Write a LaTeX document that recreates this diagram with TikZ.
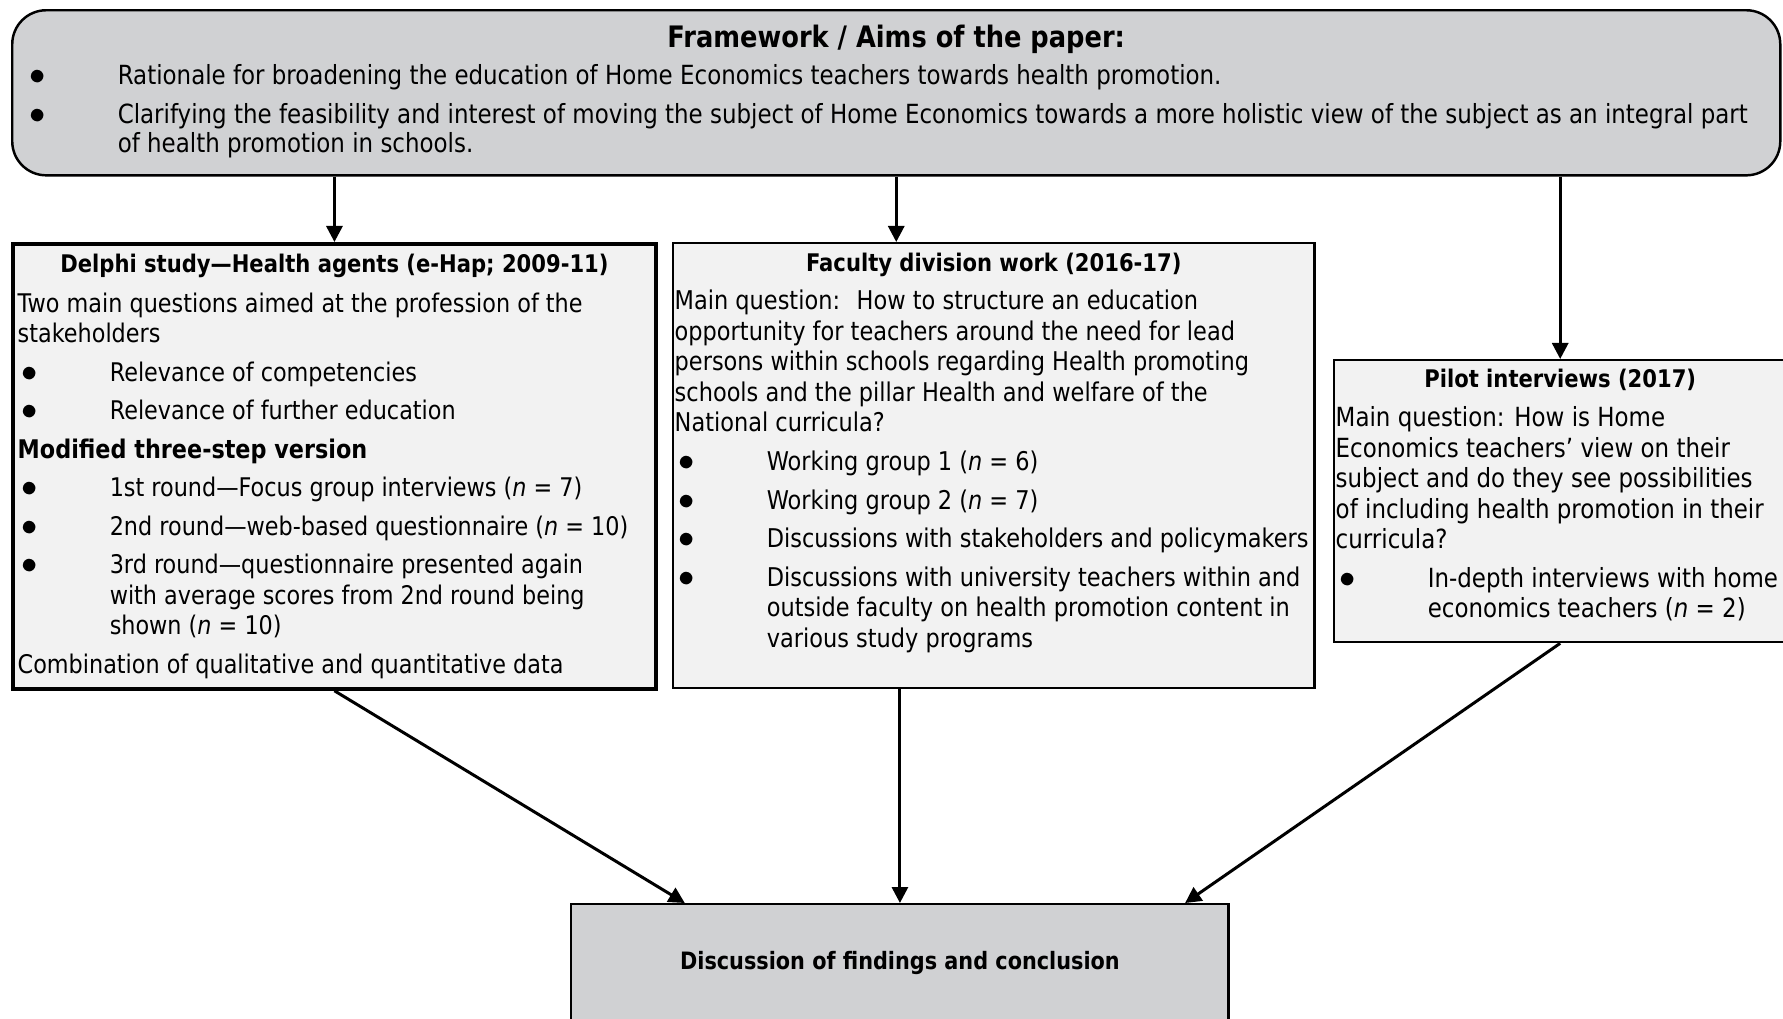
\documentclass[tikz,border=0pt]{standalone}
\usepackage{fontspec}
\setmainfont{DejaVu Sans}[FakeStretch=0.87]
\usepackage{tikz}
\usetikzlibrary{arrows.meta,positioning,calc}
\definecolor{cA}{HTML}{000000}
\definecolor{cG}{HTML}{D0D1D3}
\definecolor{cL}{HTML}{F2F2F2}
\newcommand{\bodyfont}{\fontsize{7.4}{8.68}\selectfont}
\newcommand{\aimsfont}{\fontsize{7.5}{8.25}\selectfont}
\tikzset{
  frame/.style={draw=cA,line width=0.7pt,fill=cG,rounded corners=0.34cm,inner sep=0pt,anchor=north west},
  panel/.style={draw=cA,line width=0.6pt,fill=cL,inner sep=0pt,anchor=north west},
  head/.style={font=\fontsize{6.9}{8}\selectfont\bfseries,inner sep=0pt},
  body/.style={font=\bodyfont,align=left,inner sep=0pt,anchor=north west},
  maparrow/.style={-{Triangle[length=0.16cm,width=0.16cm]},line width=0.85pt,cA},
}
\newcommand{\bul}[1]{\makebox[0.92cm][l]{\hspace{0.04cm}{\fontsize{9.5}{9.5}\selectfont$\bullet$}}#1}
\newcommand{\ind}[1]{\hspace*{0.92cm}#1}

\begin{document}
\begin{tikzpicture}[x=0.01cm,y=-0.01cm]
\useasboundingbox (0,0) rectangle (1783,1018);

% boxes
\node[frame,minimum width=17.67cm,minimum height=1.65cm] (aims) at (11,9) {};
\node[panel,line width=1pt,minimum width=6.43cm,minimum height=4.45cm] (delphi) at (11,242) {};
\node[panel,minimum width=6.41cm,minimum height=4.45cm] (faculty) at (672,242) {};
\node[panel,minimum width=4.52cm,minimum height=2.82cm] (pilot) at (1333,359) {};
\node[frame,rounded corners=0pt,minimum width=6.57cm,minimum height=1.18cm,
  font=\fontsize{6.8}{8}\selectfont\bfseries] (concl) at (570,903)
  {Discussion of findings and conclusion};

% headings
\node[head,font=\fontsize{8.4}{9}\selectfont\bfseries] (aimsT) at ([yshift=-0.304cm]aims.north) {Framework / Aims of the paper:};
\node[head] (delphiT) at ([yshift=-0.24cm]delphi.north) {Delphi study---Health agents (e-Hap; 2009-11)};
\node[head] (facultyT) at ([yshift=-0.23cm]faculty.north) {Faculty division work (2016-17)};
\node[head] (pilotT) at ([yshift=-0.21cm]pilot.north) {Pilot interviews (2017)};

% texts
\node[body,font=\aimsfont] (aimsB) at ([xshift=0.14cm,yshift=-0.55cm]aims.north west) {%
  \bul{Rationale for broadening the education of Home Economics teachers towards health promotion.}\\[0.1cm]
  \bul{Clarifying the feasibility and interest of moving the subject of Home Economics towards a more holistic view of the subject as an integral part}\\
  \ind{of health promotion in schools.}};

\node[body,font=\fontsize{7.3}{8.68}\selectfont] (delphiB) at ([xshift=0.06cm,yshift=-0.5cm]delphi.north west) {%
  Two main questions aimed at the profession of the\\
  stakeholders\\[0.08cm]
  \bul{Relevance of competencies}\\[0.08cm]
  \bul{Relevance of further education}\\[0.08cm]
  \textbf{Modified three-step version}\\[0.08cm]
  \bul{1st round---Focus group interviews (\textit{n} = 7)}\\[0.08cm]
  \bul{2nd round---web-based questionnaire (\textit{n} = 10)}\\[0.08cm]
  \bul{3rd round---questionnaire presented again}\\
  \ind{with average scores from 2nd round being}\\
  \ind{shown (\textit{n} = 10)}\\[0.08cm]
  Combination of qualitative and quantitative data};

\node[body,font=\fontsize{7.34}{8.68}\selectfont] (facultyB) at ([xshift=0.02cm,yshift=-0.475cm]faculty.north west) {%
  Main question:~ How to structure an education\\
  opportunity for teachers around the need for lead\\
  persons within schools regarding Health promoting\\
  schools and the pillar Health and welfare of the\\
  National curricula?\\[0.08cm]
  \bul{Working group 1 (\textit{n} = 6)}\\[0.08cm]
  \bul{Working group 2 (\textit{n} = 7)}\\[0.08cm]
  \bul{Discussions with stakeholders and policymakers}\\[0.08cm]
  \bul{Discussions with university teachers within and}\\
  \ind{outside faculty on health promotion content in}\\
  \ind{various study programs}};

\node[body,font=\fontsize{7.5}{8.68}\selectfont] (pilotB) at ([xshift=0.02cm,yshift=-0.47cm]pilot.north west) {%
  Main question: How is Home\\
  Economics teachers' view on their\\
  subject and do they see possibilities\\
  of including health promotion in their\\
  curricula?\\[0.08cm]
  \bul{In-depth interviews with home}\\
  \ind{economics teachers (\textit{n} = 2)}};

% arrows
\draw[maparrow] (aims.south -| delphi.north) -- (delphi.north);
\draw[maparrow] (aims.south) -- (aims.south |- faculty.north);
\draw[maparrow] (aims.south -| pilot.north) -- (pilot.north);
\draw[maparrow] (delphi.south) -- ([xshift=-2.15cm]concl.north);
\draw[maparrow] (concl.north |- faculty.south) -- (concl.north);
\draw[maparrow] (pilot.south) -- ([xshift=2.85cm]concl.north);
\end{tikzpicture}
\end{document}
